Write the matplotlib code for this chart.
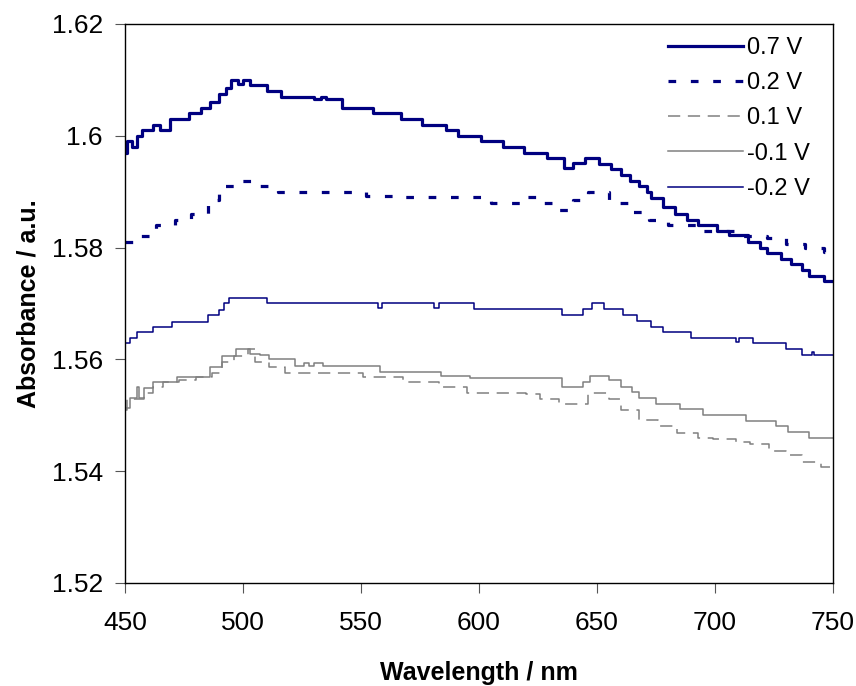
import matplotlib
matplotlib.use("Agg")
import matplotlib.pyplot as plt

plt.rcParams['font.family'] = ['Liberation Sans', 'DejaVu Sans']

# ---------------- data (step breakpoints: wavelength nm, absorbance) ----------------
wl_07 = [450, 451, 453, 455, 457, 462, 465, 469, 477, 482, 486, 490, 493, 495, 498, 500, 503,
         510, 516, 530, 533, 535, 542, 555, 567, 576, 586, 591, 601, 610, 619, 629, 636, 640,
         645, 651, 656, 660, 664, 668, 671, 673, 678, 683, 688, 693, 701, 706, 714, 719, 722,
         728, 732, 737, 740, 746, 750]
ab_07 = [1.597, 1.599, 1.598, 1.600, 1.601, 1.602, 1.601, 1.603, 1.604, 1.605, 1.606, 1.6075,
         1.6085, 1.610, 1.6092, 1.610, 1.609, 1.608, 1.607, 1.6065, 1.607, 1.6065, 1.605, 1.604,
         1.603, 1.602, 1.601, 1.600, 1.599, 1.598, 1.597, 1.596, 1.5942, 1.5951, 1.596, 1.595,
         1.594, 1.593, 1.592, 1.591, 1.590, 1.5888, 1.5872, 1.586, 1.585, 1.584, 1.583, 1.5822,
         1.581, 1.580, 1.579, 1.578, 1.577, 1.576, 1.575, 1.574, 1.574]

wl_02 = [450, 456, 463, 471, 478, 485, 490, 498, 507, 515, 552, 566, 605, 619, 627, 633, 640,
         646, 655, 663, 672, 680, 695, 712, 722, 730, 738, 746, 750]
ab_02 = [1.581, 1.582, 1.584, 1.585, 1.586, 1.5885, 1.591, 1.592, 1.591, 1.590, 1.5893, 1.589,
         1.588, 1.589, 1.588, 1.5867, 1.5885, 1.590, 1.588, 1.5864, 1.585, 1.584, 1.583, 1.582,
         1.5817, 1.5806, 1.580, 1.5793, 1.5793]

wl_01 = [450, 451, 458, 462, 466, 473, 480, 487, 491, 496, 502, 505, 511, 518, 551, 568, 583,
         595, 620, 626, 634, 646, 655, 660, 668, 676, 684, 693, 699, 709, 715, 723, 730, 737,
         745, 750]
ab_01 = [1.551, 1.553, 1.554, 1.555, 1.556, 1.5563, 1.5568, 1.5576, 1.5595, 1.5606, 1.5618,
         1.5595, 1.5587, 1.5576, 1.5568, 1.556, 1.555, 1.554, 1.5538, 1.553, 1.552, 1.554,
         1.553, 1.551, 1.5491, 1.548, 1.5468, 1.546, 1.5458, 1.5452, 1.5449, 1.5436, 1.5429,
         1.5416, 1.5407, 1.5407]

wl_m01 = [450, 452, 455, 456, 458, 462, 472, 486, 491, 497, 503, 507, 511, 522, 526, 528, 530,
          534, 558, 584, 596, 635, 644, 647, 655, 660, 665, 668, 675, 685, 695, 713, 726, 731,
          740, 750]
ab_m01 = [1.5513, 1.5531, 1.555, 1.5531, 1.5549, 1.556, 1.5569, 1.5587, 1.5606, 1.5618, 1.561,
          1.5608, 1.560, 1.5589, 1.5594, 1.5589, 1.5594, 1.5589, 1.5578, 1.557, 1.5567, 1.5551,
          1.556, 1.557, 1.5564, 1.5551, 1.5542, 1.5531, 1.552, 1.5511, 1.550, 1.549, 1.548,
          1.547, 1.5459, 1.5459]

wl_m02 = [450, 452, 455, 462, 470, 485, 490, 492, 494, 510, 557, 559, 581, 583, 598, 635, 644,
          648, 653, 661, 667, 673, 678, 690, 709, 710, 716, 730, 737, 741, 742, 750]
ab_m02 = [1.5629, 1.5638, 1.5649, 1.5658, 1.5667, 1.5679, 1.5688, 1.570, 1.571, 1.570, 1.5692,
          1.570, 1.5692, 1.570, 1.569, 1.568, 1.569, 1.570, 1.569, 1.568, 1.5669, 1.5658,
          1.5649, 1.5638, 1.5632, 1.5638, 1.5629, 1.5618, 1.5608, 1.5614, 1.5608, 1.5608]

labels = ['0.7 V', '0.2 V', '0.1 V', '-0.1 V', '-0.2 V']
x_ticks = [450, 500, 550, 600, 650, 700, 750]
y_ticks = [1.52, 1.54, 1.56, 1.58, 1.60, 1.62]
y_tick_labels = ['1.52', '1.54', '1.56', '1.58', '1.6', '1.62']

navy = '#000080'
gray = '#808080'

fig = plt.figure(figsize=(8.56, 6.86), dpi=100)
ax = fig.add_axes([125/856, 1 - 583/686, (833-125)/856, (583-24)/686])

ax.plot(wl_07, ab_07, drawstyle='steps-post', color=navy, lw=2.3, label=labels[0])
ax.plot(wl_02, ab_02, drawstyle='steps-post', color=navy, lw=2.3, dashes=(2.4, 4.6),
        label=labels[1])
ax.plot(wl_01, ab_01, drawstyle='steps-post', color=gray, lw=1.1, dashes=(8.0, 5.0),
        label=labels[2])
ax.plot(wl_m01, ab_m01, drawstyle='steps-post', color=gray, lw=1.1, label=labels[3])
ax.plot(wl_m02, ab_m02, drawstyle='steps-post', color=navy, lw=1.1, label=labels[4])

ax.set_xlim(450, 750)
ax.set_ylim(1.52, 1.62)
ax.set_xticks(x_ticks)
ax.set_yticks(y_ticks)
ax.set_yticklabels(y_tick_labels)

for s in ax.spines.values():
    s.set_linewidth(1.0)
    s.set_color('black')

ax.tick_params(axis='both', direction='out', length=7, width=0.8, color='#555555',
               labelsize=19)
ax.tick_params(axis='y', pad=9)
ax.tick_params(axis='x', pad=13)

ax.set_xlabel('Wavelength / nm', fontsize=18, fontweight='bold', labelpad=19)
ax.set_ylabel('Absorbance / a.u.', fontsize=18, fontweight='bold', labelpad=8)

leg = ax.legend(loc='upper left', bbox_to_anchor=((667-125)/707, (583-37)/559),
                frameon=False, fontsize=17, handlelength=3.2, handletextpad=0.15,
                labelspacing=0.56, borderpad=0, borderaxespad=0)

fig.savefig('out.png', dpi=100)
